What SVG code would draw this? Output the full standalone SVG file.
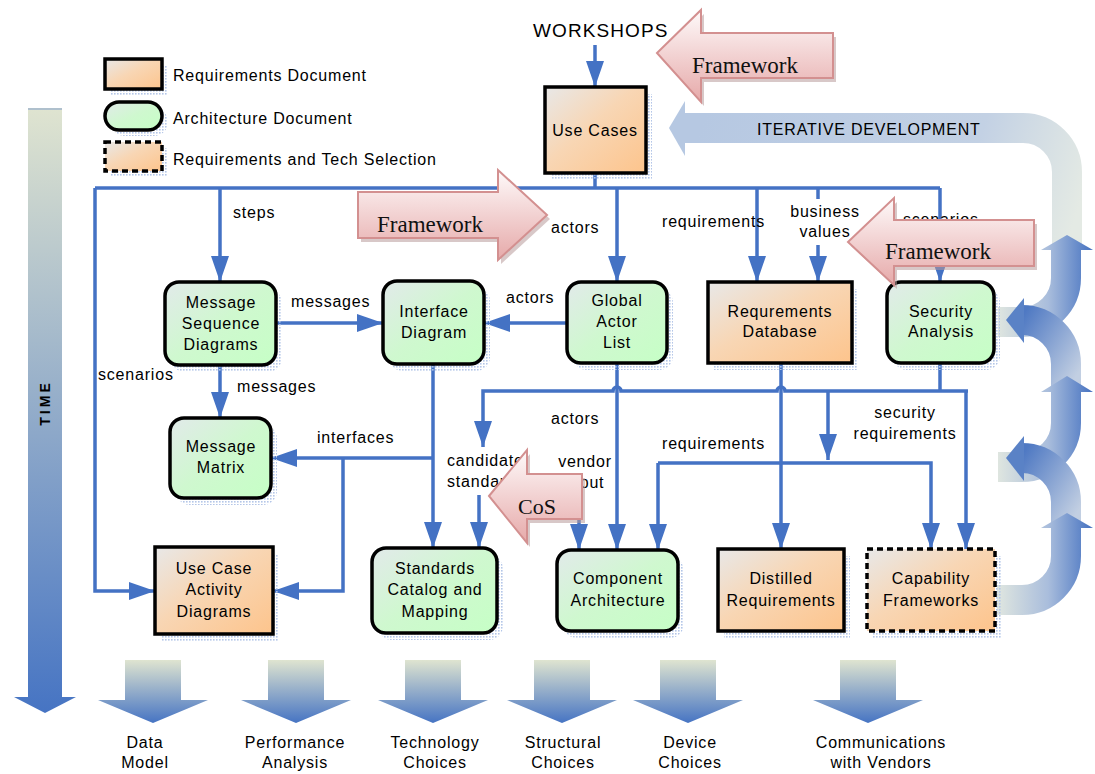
<svg xmlns="http://www.w3.org/2000/svg" width="1095" height="774" viewBox="0 0 1095 774">
<defs>
  <linearGradient id="gOrange" x1="0" y1="0" x2="1" y2="1">
    <stop offset="0" stop-color="#e8e8e8"/>
    <stop offset="0.45" stop-color="#f8d6b4"/>
    <stop offset="1" stop-color="#fdc48c"/>
  </linearGradient>
  <linearGradient id="gGreen" x1="0" y1="0" x2="1" y2="1">
    <stop offset="0" stop-color="#e2eaea"/>
    <stop offset="0.5" stop-color="#cff8cf"/>
    <stop offset="1" stop-color="#c6ffc6"/>
  </linearGradient>
  <linearGradient id="gPink" x1="0" y1="0" x2="0" y2="1">
    <stop offset="0" stop-color="#fefafa"/>
    <stop offset="1" stop-color="#e6a9a9"/>
  </linearGradient>
  <linearGradient id="gDown" x1="0" y1="0" x2="0" y2="1">
    <stop offset="0" stop-color="#dfe4d0"/>
    <stop offset="1" stop-color="#4674c3"/>
  </linearGradient>
  <linearGradient id="gIter" gradientUnits="userSpaceOnUse" x1="700" y1="128" x2="1067" y2="245">
    <stop offset="0" stop-color="#b6c8e2"/>
    <stop offset="0.7" stop-color="#c3d1e4"/>
    <stop offset="1" stop-color="#e4eae4"/>
  </linearGradient>
  <linearGradient id="gUp" gradientUnits="userSpaceOnUse" x1="995" y1="0" x2="1092" y2="0">
    <stop offset="0" stop-color="#e2e8e0"/>
    <stop offset="0.55" stop-color="#a9bddc"/>
    <stop offset="1" stop-color="#4773c1"/>
  </linearGradient>
  <linearGradient id="gLeft" x1="0" y1="0" x2="1" y2="1">
    <stop offset="0" stop-color="#4f79c3"/>
    <stop offset="1" stop-color="#c2cfe2"/>
  </linearGradient>
  <pattern id="halftone" width="3" height="3" patternUnits="userSpaceOnUse">
    <rect width="1.6" height="1.6" fill="#b4c6e8"/>
  </pattern>
  <marker id="ah" markerUnits="userSpaceOnUse" markerWidth="26" markerHeight="18" refX="26" refY="9" orient="auto">
    <path d="M0,0 L26,9 L0,18 z" fill="#4472c4"/>
  </marker>
</defs>
<style>
  .sans{font-family:"Liberation Sans",Arial,sans-serif;font-size:16px;letter-spacing:0.8px;fill:#000}
  .mid{text-anchor:middle}
  .serif{font-family:"Liberation Serif","Times New Roman",serif;font-size:23px;fill:#111}
  .req{fill:url(#gOrange);stroke:#000;stroke-width:3.5}
  .arch{fill:url(#gGreen);stroke:#000;stroke-width:3.5}
  .sel{fill:url(#gOrange);stroke:#000;stroke-width:3.5;stroke-dasharray:6 4}
  .shadow{fill:url(#halftone)}
  .c{fill:none;stroke:#4472c4;stroke-width:3.5}
  .a{marker-end:url(#ah)}
  .pink{fill:url(#gPink);stroke:#d39090;stroke-width:2}
  .pinkshadow{fill:#b89a9a;opacity:0.55}
  .down{fill:url(#gDown)}
  .up{fill:none;stroke:url(#gUp);stroke-width:30}
</style>

<rect width="1095" height="774" fill="#fff"/>

<!-- time axis -->
<g id="time">
  <polygon class="down" points="28,108 62,108 62,697 76,697 45,713 14,697 28,697"/>
  <line x1="28" y1="109" x2="62" y2="109" stroke="#9fb4cc" stroke-width="1.5"/>
  <text class="sans mid" transform="translate(50,403) rotate(-90)" style="font-size:14px;font-weight:bold;letter-spacing:3px">TIME</text>
</g>

<!-- legend -->
<g id="legend">
  <rect class="shadow" x="111" y="65" width="57" height="30"/>
  <rect class="req" x="105" y="59" width="57" height="30"/>
  <text class="sans" x="173" y="81">Requirements Document</text>
  <rect class="shadow" x="111" y="108" width="57" height="28" rx="14"/>
  <rect class="arch" x="105" y="102" width="57" height="28" rx="14"/>
  <text class="sans" x="173" y="124">Architecture Document</text>
  <rect class="shadow" x="111" y="148" width="57" height="29"/>
  <rect class="sel" x="105" y="142" width="57" height="29"/>
  <text class="sans" x="173" y="165">Requirements and Tech Selection</text>
</g>

<!-- iterative development loop -->
<g id="iterative">
  <path d="M683,128 H1023 A44,44 0 0 1 1067,172 V248" fill="none" stroke="url(#gIter)" stroke-width="30"/>
  <polygon points="669,128 685,101 685,156" fill="#b6c8e2"/>
  <text class="sans" x="757" y="135">ITERATIVE DEVELOPMENT</text>
</g>

<!-- curled feedback arrows along the right edge -->
<g id="feedback">
  <path class="up" d="M998,322 H1022 A44,44 0 0 0 1066,278 V249"/>
  <polygon points="1041,250 1093,250 1067,235" fill="url(#gUp)"/>
  <path d="M1020,320 H1022 A44,44 0 0 1 1066,364 V392" fill="none" stroke="url(#gLeft)" stroke-width="30"/>
  <polygon points="1006,320 1024,298 1024,343" fill="#5a82c6"/>
  <path class="up" d="M998,467 H1022 A44,44 0 0 0 1066,423 V391"/>
  <polygon points="1041,392 1093,392 1067,376" fill="url(#gUp)"/>
  <path d="M1020,458 H1022 A44,44 0 0 1 1066,502 V530" fill="none" stroke="url(#gLeft)" stroke-width="30"/>
  <polygon points="1006,458 1024,436 1024,481" fill="#5a82c6"/>
  <path class="up" d="M997,600 H1022 A44,44 0 0 0 1066,556 V527"/>
  <polygon points="1041,528 1093,528 1067,513" fill="url(#gUp)"/>
</g>

<!-- connectors and their labels -->
<g id="connectors">
  <path class="c a" d="M595,45 V87"/>
  <path class="c" d="M595,173 V188"/>
  <path class="c" d="M95,188 H940"/>
  <path class="c a" d="M220,188 V282"/>
  <path class="c a" d="M617,188 V282"/>
  <path class="c a" d="M757,188 V282"/>
  <path class="c" d="M818,188 V199"/>
  <path class="c a" d="M818,245 V282"/>
  <path class="c a" d="M940,188 V282"/>
  <path class="c a" d="M95,188 V591 H155"/>
  <path class="c a" d="M276,323 H383"/>
  <path class="c a" d="M567,323 H484"/>
  <path class="c a" d="M220,365 V418"/>
  <path class="c a" d="M433,364 V548"/>
  <path class="c a" d="M433,458 H271"/>
  <path class="c a" d="M343,458 V591 H273"/>
  <path class="c a" d="M617,363 V550"/>
  <path class="c a" d="M781,363 V549"/>
  <path class="c" d="M940,363 V391"/>
  <path class="c a" d="M968,391 H785 A4,4 0 0 0 777,391 H621 A4,4 0 0 0 613,391 H483 V447"/>
  <path class="c a" d="M966,391 V549"/>
  <path class="c a" d="M828,391 V460"/>
  <path class="c a" d="M658,463 H931 V549"/>
  <path class="c a" d="M658,463 V550"/>
  <path class="c a" d="M479,495 V548"/>
  <path class="c a" d="M579,500 V550"/>

  <text class="sans" x="533" y="37" style="font-size:19px;letter-spacing:1.1px">WORKSHOPS</text>
  <text class="sans" x="233" y="218">steps</text>
  <text class="sans" x="551" y="233">actors</text>
  <text class="sans" x="662" y="227">requirements</text>
  <text class="sans mid" x="825" y="217">business</text>
  <text class="sans mid" x="825" y="237">values</text>
  <text class="sans" x="903" y="225">scenarios</text>
  <text class="sans" x="291" y="307">messages</text>
  <text class="sans" x="506" y="303">actors</text>
  <text class="sans" x="98" y="380">scenarios</text>
  <text class="sans" x="237" y="392">messages</text>
  <text class="sans" x="317" y="443">interfaces</text>
  <text class="sans" x="551" y="424">actors</text>
  <text class="sans" x="447" y="466">candidate</text>
  <text class="sans" x="447" y="487">standards</text>
  <text class="sans mid" x="585" y="467">vendor</text>
  <text class="sans mid" x="585" y="488">input</text>
  <text class="sans" x="662" y="449">requirements</text>
  <text class="sans mid" x="905" y="418">security</text>
  <text class="sans mid" x="905" y="439">requirements</text>
</g>

<!-- documents -->
<g id="use-cases">
  <rect class="shadow" x="551" y="94" width="101" height="86"/>
  <rect class="req" x="545" y="87" width="101" height="86"/>
  <text class="sans mid" x="595" y="136">Use Cases</text>
</g>
<g id="message-sequence-diagrams">
  <rect class="shadow" x="171" y="289" width="111" height="83" rx="14"/>
  <rect class="arch" x="165" y="282" width="111" height="83" rx="14"/>
  <text class="sans mid" x="221" y="308">Message</text>
  <text class="sans mid" x="221" y="329">Sequence</text>
  <text class="sans mid" x="221" y="350">Diagrams</text>
</g>
<g id="interface-diagram">
  <rect class="shadow" x="389" y="288" width="101" height="83" rx="14"/>
  <rect class="arch" x="383" y="281" width="101" height="83" rx="14"/>
  <text class="sans mid" x="434" y="317">Interface</text>
  <text class="sans mid" x="434" y="338">Diagram</text>
</g>
<g id="global-actor-list">
  <rect class="shadow" x="573" y="289" width="100" height="81" rx="14"/>
  <rect class="arch" x="567" y="282" width="100" height="81" rx="14"/>
  <text class="sans mid" x="617" y="306">Global</text>
  <text class="sans mid" x="617" y="327">Actor</text>
  <text class="sans mid" x="617" y="348">List</text>
</g>
<g id="requirements-database">
  <rect class="shadow" x="714" y="289" width="144" height="81"/>
  <rect class="req" x="708" y="282" width="144" height="81"/>
  <text class="sans mid" x="780" y="317">Requrements</text>
  <text class="sans mid" x="780" y="337">Database</text>
</g>
<g id="security-analysis">
  <rect class="shadow" x="893" y="289" width="107" height="81" rx="14"/>
  <rect class="arch" x="887" y="282" width="107" height="81" rx="14"/>
  <text class="sans mid" x="941" y="317">Security</text>
  <text class="sans mid" x="941" y="337">Analysis</text>
</g>
<g id="message-matrix">
  <rect class="shadow" x="176" y="425" width="101" height="80" rx="14"/>
  <rect class="arch" x="170" y="418" width="101" height="80" rx="14"/>
  <text class="sans mid" x="221" y="452">Message</text>
  <text class="sans mid" x="221" y="473">Matrix</text>
</g>
<g id="use-case-activity-diagrams">
  <rect class="shadow" x="161" y="554" width="118" height="87"/>
  <rect class="req" x="155" y="547" width="118" height="87"/>
  <text class="sans mid" x="214" y="574">Use Case</text>
  <text class="sans mid" x="214" y="595">Activity</text>
  <text class="sans mid" x="214" y="617">Diagrams</text>
</g>
<g id="standards-catalog">
  <rect class="shadow" x="378" y="555" width="125" height="85" rx="14"/>
  <rect class="arch" x="372" y="548" width="125" height="85" rx="14"/>
  <text class="sans mid" x="435" y="574">Standards</text>
  <text class="sans mid" x="435" y="595">Catalog and</text>
  <text class="sans mid" x="435" y="617">Mapping</text>
</g>
<g id="component-architecture">
  <rect class="shadow" x="563" y="557" width="121" height="81" rx="14"/>
  <rect class="arch" x="557" y="550" width="121" height="81" rx="14"/>
  <text class="sans mid" x="618" y="584">Component</text>
  <text class="sans mid" x="618" y="606">Architecture</text>
</g>
<g id="distilled-requirements">
  <rect class="shadow" x="724" y="556" width="126" height="82"/>
  <rect class="req" x="718" y="549" width="126" height="82"/>
  <text class="sans mid" x="781" y="584">Distilled</text>
  <text class="sans mid" x="781" y="606">Requirements</text>
</g>
<g id="capability-frameworks">
  <rect class="shadow" x="873" y="556" width="128" height="82"/>
  <rect class="sel" x="867" y="549" width="128" height="82"/>
  <text class="sans mid" x="931" y="584">Capability</text>
  <text class="sans mid" x="931" y="606">Frameworks</text>
</g>

<!-- guiding arrows -->
<g id="framework-top">
  <polygon class="pinkshadow" points="660,57 704,14 704,37 836,37 836,82 704,82 704,106"/>
  <polygon class="pink" points="657,53 701,10 701,33 833,33 833,78 701,78 701,102"/>
  <text class="serif" x="692" y="73">Framework</text>
</g>
<g id="framework-middle">
  <polygon class="pinkshadow" points="361,196 501,196 501,174 550,219 501,264 501,242 361,242"/>
  <polygon class="pink" points="358,192 498,192 498,170 547,215 498,260 498,238 358,238"/>
  <text class="serif" x="377" y="232">Framework</text>
</g>
<g id="framework-right">
  <polygon class="pinkshadow" points="851,246 897,202 897,224 1037,224 1037,270 897,270 897,289"/>
  <polygon class="pink" points="848,242 894,198 894,220 1034,220 1034,266 894,266 894,285"/>
  <text class="serif" x="885" y="259">Framework</text>
</g>
<g id="cos">
  <polygon class="pinkshadow" points="492,500 530,454 530,478 585,478 585,523 530,523 530,547"/>
  <polygon class="pink" points="489,496 527,450 527,474 582,474 582,519 527,519 527,543"/>
  <text class="serif" x="518" y="514" style="font-size:22px">CoS</text>
</g>

<!-- outcomes -->
<g id="outcomes">
  <polygon class="down" points="125,660 181,660 181,700 208,700 153,723 98,700 125,700"/>
  <polygon class="down" points="268,660 324,660 324,700 351,700 296,723 241,700 268,700"/>
  <polygon class="down" points="405,660 461,660 461,700 488,700 433,723 378,700 405,700"/>
  <polygon class="down" points="534,660 590,660 590,700 617,700 562,723 507,700 534,700"/>
  <polygon class="down" points="660,660 716,660 716,700 743,700 688,723 633,700 660,700"/>
  <polygon class="down" points="840,660 896,660 896,700 923,700 868,723 813,700 840,700"/>
  <text class="sans mid" x="145" y="748">Data</text>
  <text class="sans mid" x="145" y="768">Model</text>
  <text class="sans mid" x="295" y="748">Performance</text>
  <text class="sans mid" x="295" y="768">Analysis</text>
  <text class="sans mid" x="435" y="748">Technology</text>
  <text class="sans mid" x="435" y="768">Choices</text>
  <text class="sans mid" x="563" y="748">Structural</text>
  <text class="sans mid" x="563" y="768">Choices</text>
  <text class="sans mid" x="690" y="748">Device</text>
  <text class="sans mid" x="690" y="768">Choices</text>
  <text class="sans mid" x="881" y="748">Communications</text>
  <text class="sans mid" x="881" y="768">with Vendors</text>
</g>
</svg>
